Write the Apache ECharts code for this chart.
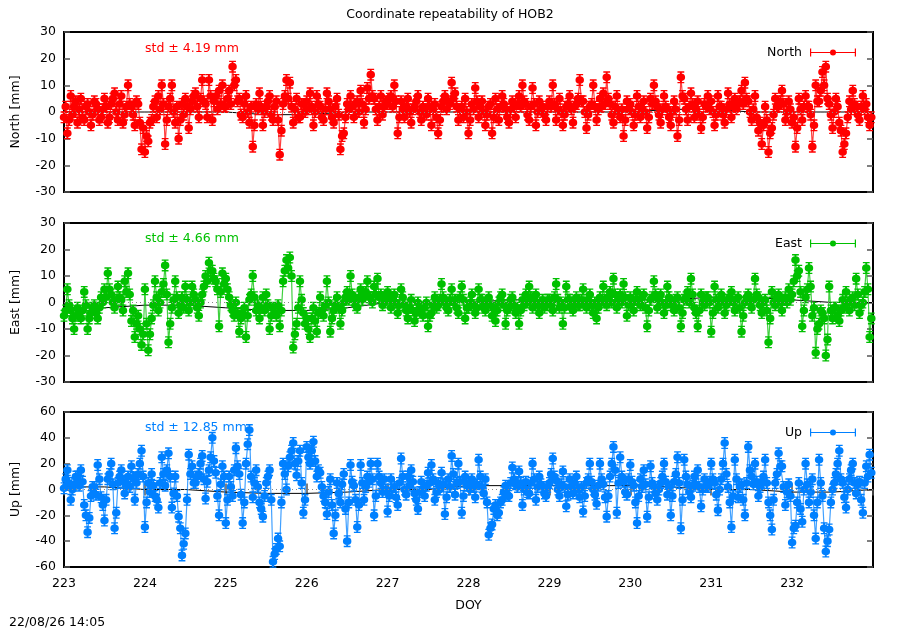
<!DOCTYPE html>
<html><head><meta charset="utf-8">
<script src="https://cdn.jsdelivr.net/npm/echarts@6/dist/echarts.min.js"></script>
<style>html,body{margin:0;padding:0;background:#fff}#c{width:900px;height:630px}</style>
</head><body><div id="c"></div>
<script>
// half-hourly samples, day of year 223.0 .. 232.979 (48 per day)
const north = [
-2,2,-8,-3,6,-1,2,4,-4,1,5,-2,-3,2,3,0,-5,-1,4,3,1,-3,-2,1,5,2,-4,-2,3,5,7,0,-3,3,6,-4,-1,2,10,3,2,-1,-5,4,3,-4,-14,-6,
-15,-9,-11,-4,-3,2,4,-2,6,1,10,3,-12,-3,2,5,10,0,-4,2,-10,-3,3,-1,5,2,-6,1,4,6,7,2,-2,5,12,4,3,-2,12,6,-3,4,6,1,8,3,10,2,
2,5,8,3,17,10,12,4,5,-1,-2,3,6,0,-4,2,-13,-5,3,1,7,2,-5,0,2,4,6,-1,-3,2,4,-3,-16,-7,3,6,12,5,11,2,-4,1,5,-2,-2,3,3,0,
4,1,7,2,-5,0,6,3,2,-2,-3,1,7,4,1,-2,-4,2,5,-1,-14,-9,-8,-2,3,1,6,2,-2,3,4,0,8,3,-4,1,9,5,14,6,5,1,-3,2,6,-1,2,4,
3,5,6,2,10,4,-8,-2,4,1,-2,2,5,0,-4,1,2,4,6,0,-3,2,1,-1,5,2,-5,1,3,-2,-8,-3,2,4,6,1,4,3,11,5,7,2,-3,1,2,-2,5,0,
-8,-3,3,1,9,4,-2,2,4,0,-5,-1,2,3,-8,-2,5,1,-3,2,6,3,1,-2,-4,1,4,2,-2,3,6,2,10,4,3,-1,-3,2,9,3,-5,0,4,1,2,-1,-3,2,
4,2,10,3,-3,1,5,0,-5,-1,2,3,6,1,-4,2,3,5,12,4,4,0,-6,-1,2,3,10,2,-3,1,5,2,7,3,13,5,3,-1,-4,2,6,0,-2,1,-9,-3,4,1,
3,0,-5,-1,6,2,-2,1,4,0,-6,-2,5,3,10,4,2,-1,-4,1,6,2,1,-2,-5,0,4,1,-9,-3,13,6,5,1,-3,2,7,3,-2,1,4,-1,-6,-2,3,2,6,1,
4,0,-5,-1,6,2,2,-1,-4,1,7,3,-2,2,5,1,3,4,8,3,11,5,4,0,-3,1,6,-2,-7,-4,-12,-5,2,-3,-15,-8,-6,-1,5,2,2,4,8,3,-3,0,4,1,
-4,-2,-13,-6,5,1,-3,2,6,2,2,-1,-13,-5,10,4,4,8,15,10,17,5,3,-1,-6,0,5,2,-4,-7,-15,-12,-8,-2,4,1,8,3,2,-1,-3,2,6,1,3,-2,-5,-2
];
const east = [
-5,-3,5,-1,-3,-6,-10,-5,-2,-4,-6,-3,4,-1,-10,-6,-4,-2,-1,-4,-6,-2,2,0,5,2,11,5,3,0,-2,1,6,2,1,-3,8,4,11,3,-7,-3,-13,-8,-5,-10,-16,-12,
5,-8,-18,-12,-6,-1,8,2,-3,0,4,7,14,3,-15,-8,-2,1,8,2,-4,-1,2,-2,6,1,-3,0,6,3,1,-2,-5,0,3,6,10,8,15,12,12,9,8,5,-9,4,11,7,
9,5,2,-1,-3,-5,0,-4,-11,-6,-4,-2,-13,-5,1,3,10,2,-3,-1,-6,-2,2,-3,3,-1,-10,-5,-2,-4,-5,-1,-9,-3,8,12,16,13,17,10,-17,-12,-8,-2,8,1,-4,-8,
-6,-10,-13,-6,-2,-7,-11,-4,2,-3,-5,-1,8,0,-11,-6,-3,-1,2,-2,-8,-3,0,2,4,1,10,3,1,-1,-2,2,5,1,3,4,8,2,2,0,6,3,9,2,3,-1,0,2,
4,1,-2,2,3,0,-4,-1,5,2,-1,-3,-6,-2,1,-3,-7,-4,0,-2,-3,-5,-2,0,-9,-5,-4,-1,2,-2,-1,1,7,2,0,-2,-3,1,5,0,1,-2,-4,2,6,1,-6,-2,
-2,0,3,-1,-4,-2,5,1,1,-2,-3,0,2,-1,-5,-2,-7,-3,0,2,3,-1,-8,-3,-2,1,2,-1,-4,-2,-8,-3,1,-1,3,0,6,2,-2,1,3,-1,-4,0,1,-2,-1,1,
1,-1,-3,2,7,1,-2,0,-8,-2,6,1,1,-2,-3,0,2,-1,-1,1,5,0,-2,1,3,-1,-4,0,-6,-2,2,0,6,1,-1,2,4,0,9,3,-2,1,3,0,7,2,-5,-1,
2,0,-3,1,4,0,-1,2,3,-2,-9,-3,1,2,8,3,-2,1,3,0,-4,-1,6,2,0,-1,-3,1,2,-2,-9,-4,1,2,4,0,9,3,-2,-4,-9,-3,3,0,-1,2,2,0,
-11,-4,6,1,-2,0,3,1,-4,-1,1,2,4,0,-3,1,2,-2,-11,-5,0,2,3,0,-2,1,9,3,2,-1,-4,0,1,-3,-15,-6,4,0,-1,2,3,0,-3,1,2,0,5,1,
3,8,16,10,12,4,-9,-3,2,5,13,6,-5,-2,-19,-10,-8,-3,-4,-6,-20,-14,6,-3,-6,-2,-2,-5,-7,-3,1,-2,4,0,-3,1,2,-1,9,3,-4,-1,0,4,13,5,-13,-6
];
const up = [
1,8,15,5,-8,0,4,10,10,3,15,6,-12,-20,-33,-22,-5,2,2,-4,19,8,-6,-12,-24,-8,8,12,20,4,-30,-18,5,10,15,6,-3,4,10,2,18,9,-8,5,12,20,30,10,
-29,-10,5,-2,12,3,-5,-8,-14,5,25,12,3,15,28,10,-14,-3,10,-5,-21,-30,-51,-42,-34,-8,27,12,18,5,5,10,12,20,26,8,-7,6,15,25,40,22,13,-5,-20,4,18,10,
-26,-8,10,2,-5,15,32,18,12,-4,-26,-10,20,35,46,10,-6,5,15,2,-10,-15,-21,-5,5,10,15,-8,-56,-50,-46,-38,-44,-10,20,12,0,18,25,30,36,20,11,22,30,5,-18,-8,
33,25,20,30,37,22,10,15,13,2,-5,-10,-19,-2,8,-12,-34,-20,5,-3,-10,4,12,-15,-40,-10,19,6,3,-8,-29,-12,19,5,-8,2,10,6,20,8,-20,-5,20,10,5,-2,8,0,
-17,-5,8,0,2,-6,-12,5,24,10,0,-4,10,3,15,6,-3,-8,-15,-2,6,0,-5,3,13,5,19,8,-8,-2,5,0,13,4,-19,-6,8,2,26,12,-4,5,20,6,-18,-5,10,3,
5,0,8,2,-6,4,23,10,2,-3,8,-10,-35,-30,-27,-15,-12,-20,-18,-10,-8,-2,3,-4,-5,5,17,8,4,2,14,5,-12,0,6,-2,-3,5,20,8,-8,2,10,4,2,-3,-5,2,
5,12,24,10,7,0,-5,4,14,2,-13,-4,8,2,-3,5,10,0,-6,2,-17,-5,5,8,20,6,0,-4,-11,3,20,8,4,-6,-21,-5,10,20,33,15,-18,5,25,10,6,-2,-4,8,
19,6,3,-10,-26,-5,8,2,15,4,-21,-6,18,5,2,-3,-8,0,5,10,20,6,-4,2,-20,-5,6,12,25,5,-30,-8,23,10,4,-2,-6,3,10,4,15,2,-13,0,8,3,2,6,
20,8,5,-4,-16,0,8,20,36,12,2,-10,-29,-5,23,8,-6,2,4,-8,-20,5,33,15,10,4,20,6,-5,2,6,10,23,5,-10,-20,-31,-8,5,12,28,18,18,2,-12,-2,4,-5,
-41,-30,-28,-10,5,-15,-25,0,20,4,-10,-2,8,-20,-38,-10,23,5,-5,-30,-48,-40,-31,-10,0,5,12,20,30,8,5,-6,-14,0,8,15,20,5,-3,4,6,-8,-18,5,18,10,27,13
];
// half-day offset line (black), 223.0 .. 233.0
const northMean = [0,0,0,0,0,-1,-1,0,0,0,0,0,0,0,0,1,1,0,0,0,0];
const eastMean  = [-2,-2,-1,-1,-2,-3,-3,-2,0,0,0,1,1,1,1,1,2,2,1,0,0];
const upMean    = [2,2,0,0,-2,-3,-3,-2,0,0,3,3,3,3,3,2,0,0,-2,-2,0];
const stdText = ['std \u00b1 4.19 mm','std \u00b1 4.66 mm','std \u00b1 12.85 mm'];
const names = ['North','East','Up'];
const colors = ['#ff0000','#00c000','#0080ff'];
const yRanges = [[-30,30,10],[-30,30,10],[-60,60,20]];

const xs = north.map((_, i) => 223 + i / 48);
const xm = northMean.map((_, i) => 223 + i / 2);
const vals = [north, east, up];
const means = [northMean, eastMean, upMean];

const FONT = 'DejaVu Sans, sans-serif';
const FS = 12.5;
const tops = [32, 223, 412], heights = [160, 159, 155];
const grids = [], xAxes = [], yAxes = [], series = [], legends = [];
const icon = 'path://M0,4.5h46v1h-46z M0,1h1.2v8h-1.2z M44.8,1h1.2v8h-1.2z M20,5a3,3 0 1,1 6,0a3,3 0 1,1 -6,0z';
// point with error bar (gnuplot yerrorlines style)
const errSym = 'path://M3.2,0h1.6v11h-1.6z M1.2,0h5.6v1.2h-5.6z M1.2,9.8h5.6v1.2h-5.6z M0.5,5.5a3.5,3.5 0 1,1 7,0a3.5,3.5 0 1,1 -7,0z';
for (let p = 0; p < 3; p++) {
  grids.push({left: 64, right: 27, top: tops[p], height: heights[p], show: true,
    borderColor: '#000', borderWidth: 2, backgroundColor: 'transparent'});
  const isBottom = p === 2;
  xAxes.push({gridIndex: p, type: 'value', min: 223, max: 233, interval: 1,
    axisLine: {show: false}, splitLine: {show: false},
    axisTick: {show: isBottom, inside: true, length: 6, lineStyle: {color: '#555', width: 1.5}},
    axisLabel: {show: isBottom, color: '#000', fontSize: FS, fontFamily: FONT, margin: 10, showMaxLabel: false, showMinLabel: true},
    name: isBottom ? 'DOY' : '', nameLocation: 'middle', nameGap: 32,
    nameTextStyle: {color: '#000', fontSize: FS, fontFamily: FONT}});
  if (isBottom) {
    xAxes.push({gridIndex: p, type: 'value', min: 223, max: 233, interval: 1, position: 'top',
      axisLine: {show: false}, splitLine: {show: false}, axisLabel: {show: false},
      axisTick: {show: true, inside: true, length: 6, lineStyle: {color: '#555', width: 1.5}}});
  }
  const [mn, mx, iv] = yRanges[p];
  yAxes.push({gridIndex: p, type: 'value', min: mn, max: mx, interval: iv, position: 'left',
    axisLine: {show: false}, splitLine: {show: false},
    axisTick: {show: true, inside: true, length: 6, lineStyle: {color: '#555', width: 1.5}},
    axisLabel: {color: '#000', fontSize: FS, fontFamily: FONT, margin: 8},
    name: names[p] + ' [mm]', nameLocation: 'middle', nameGap: 42,
    nameTextStyle: {color: '#000', fontSize: FS, fontFamily: FONT}});
  yAxes.push({gridIndex: p, type: 'value', min: mn, max: mx, interval: iv, position: 'right',
    axisLine: {show: false}, splitLine: {show: false}, axisLabel: {show: false},
    axisTick: {show: true, inside: true, length: 6, lineStyle: {color: '#555', width: 1.5}}});
  const xi = p === 2 ? 2 : p;
  const yi = p * 2;
  series.push({type: 'line', name: names[p] + ' mean', xAxisIndex: xi, yAxisIndex: yi, z: 1,
    data: means[p].map((v, i) => [xm[i], v]), symbol: 'none', silent: true,
    lineStyle: {color: '#000', width: 1}, animation: false,
    markLine: {silent: true, symbol: 'none', label: {show: false},
      lineStyle: {color: '#888', type: [1, 3], width: 1}, data: [{yAxis: 0}]}});
  series.push({type: 'line', name: names[p], xAxisIndex: xi, yAxisIndex: yi, z: 3,
    data: vals[p].map((v, i) => [xs[i], v]), symbol: errSym, symbolSize: [8.5, 12], symbolKeepAspect: false,
    showAllSymbol: true,
    itemStyle: {color: colors[p]}, lineStyle: {color: colors[p], width: 1.2, opacity: 0.75},
    animation: false});
  legends.push({data: [{name: names[p], icon: icon}], right: 39, top: tops[p] + 9,
    align: 'right', itemWidth: 46, itemHeight: 10, itemGap: 0, selectedMode: false,
    textStyle: {color: '#000', fontSize: FS, fontFamily: FONT, padding: [0, 3, 0, 0]}});
}

const graphics = [];
const stdY = [49, 239, 428];
for (let p = 0; p < 3; p++) {
  graphics.push({type: 'text', left: 145, top: stdY[p] - 7,
    style: {text: stdText[p], fill: colors[p], font: FS + 'px ' + FONT}});
}
graphics.push({type: 'text', left: 9, top: 616, style: {text: '22/08/26 14:05', fill: '#000', font: FS + 'px ' + FONT}});

const chart = echarts.init(document.getElementById('c'), null, {renderer: 'canvas'});
chart.setOption({
  animation: false,
  backgroundColor: '#fff',
  title: {text: 'Coordinate repeatability of HOB2', left: 'center', top: 3,
    textStyle: {color: '#000', fontSize: FS, fontWeight: 'normal', fontFamily: FONT}},
  legend: legends,
  grid: grids, xAxis: xAxes, yAxis: yAxes, series: series, graphic: graphics
});
</script></body></html>
